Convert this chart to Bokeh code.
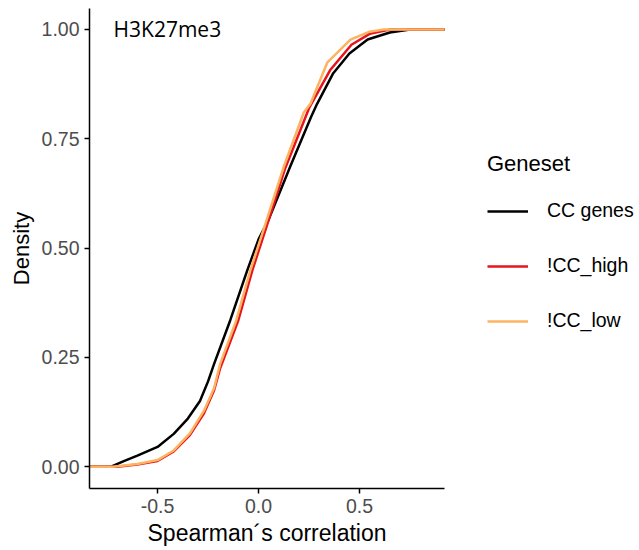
from bokeh.plotting import figure
from bokeh.models import Legend, LegendItem, Label, FixedTicker, Range1d, Title
from bokeh.embed import file_html
from bokeh.resources import INLINE

series_names = ["CC genes", "!CC_high", "!CC_low"]
series_colors = ["#000000", "#E8141B", "#FDB462"]

cc_x = [-0.84, -0.73, -0.67, -0.60, -0.50, -0.42, -0.35, -0.29, -0.25, -0.22, -0.14, -0.055, 0.0, 0.05, 0.16, 0.26, 0.29, 0.37, 0.45, 0.54, 0.65, 0.75, 0.921]
cc_y = [0.0, 0.0, 0.012, 0.025, 0.045, 0.075, 0.11, 0.15, 0.195, 0.235, 0.335, 0.45, 0.52, 0.565, 0.69, 0.80, 0.83, 0.90, 0.945, 0.977, 0.993, 1.0, 1.0]

high_x = [-0.84, -0.70, -0.60, -0.50, -0.42, -0.34, -0.27, -0.22, -0.19, -0.10, -0.03, 0.05, 0.13, 0.25, 0.356, 0.46, 0.55, 0.65, 0.921]
high_y = [0.0, 0.0, 0.005, 0.013, 0.035, 0.072, 0.122, 0.175, 0.225, 0.335, 0.45, 0.564, 0.68, 0.82, 0.908, 0.965, 0.99, 1.0, 1.0]

low_x = [-0.84, -0.72, -0.60, -0.50, -0.42, -0.34, -0.27, -0.22, -0.19, -0.11, -0.04, 0.04, 0.125, 0.224, 0.257, 0.34, 0.455, 0.55, 0.62, 0.921]
low_y = [0.0, 0.0, 0.006, 0.015, 0.037, 0.076, 0.128, 0.18, 0.235, 0.335, 0.45, 0.564, 0.686, 0.81, 0.83, 0.924, 0.977, 0.995, 1.0, 1.0]

x_ticks = [-0.5, 0.0, 0.5]
x_tick_labels = ["-0.5", "0.0", "0.5"]
y_ticks = [0.0, 0.25, 0.5, 0.75, 1.0]
y_tick_labels = ["0.00", "0.25", "0.50", "0.75", "1.00"]

FONT = "Liberation Sans"
X0, X1 = -0.837, 0.921
PX_PER_UNIT = 202.0

p = figure(width=639, height=550, output_backend="svg", toolbar_location=None,
           x_range=Range1d(X0, X1 + 195 / PX_PER_UNIT), y_range=Range1d(-0.05, 1.048),
           min_border_left=89, min_border_right=0, min_border_top=8, min_border_bottom=62)
p.outline_line_color = None
p.grid.grid_line_color = None
p.background_fill_color = "white"
p.border_fill_color = "white"

renderers = []
for xs, ys, c in [(cc_x, cc_y, series_colors[0]), (high_x, high_y, series_colors[1]), (low_x, low_y, series_colors[2])]:
    r = p.line(xs, ys, line_color=c, line_width=2.5)
    renderers.append(r)

for ax in (p.xaxis[0], p.yaxis[0]):
    ax.axis_line_color = "black"
    ax.axis_line_width = 1.5
    ax.major_tick_line_color = "black"
    ax.major_tick_line_width = 1.5
    ax.major_tick_out = 5
    ax.major_tick_in = 0
    ax.minor_tick_line_color = None
    ax.major_label_text_color = "#4D4D4D"
    ax.major_label_text_font = FONT
    ax.major_label_text_font_size = "19.5px"
    ax.axis_label_text_font = FONT
    ax.axis_label_text_font_style = "normal"
    ax.axis_label_text_font_size = "22px"
    ax.axis_label_text_color = "black"

p.xaxis[0].bounds = (X0, X1)
p.xaxis[0].ticker = FixedTicker(ticks=x_ticks)
p.xaxis[0].major_label_overrides = {t: l for t, l in zip(x_ticks, x_tick_labels)}
p.yaxis[0].ticker = FixedTicker(ticks=y_ticks)
p.yaxis[0].major_label_overrides = {t: l for t, l in zip(y_ticks, y_tick_labels)}
p.yaxis[0].axis_label = "Density"
p.xaxis[0].major_label_standoff = 5
p.yaxis[0].major_label_standoff = 5
p.yaxis[0].axis_label_standoff = 5

xlab = Title(text="Spearman\u00b4s correlation", align="left", offset=58,
             text_font=FONT, text_font_size="23px", text_font_style="normal",
             text_color="black", standoff=4)
p.add_layout(xlab, "below")

lab = Label(x=-0.718, y=1.0, text="H3K27me3", text_font="Open Sans", text_font_size="21px",
            text_color="black", text_baseline="middle", text_align="left")
p.add_layout(lab)

legend = Legend(items=[LegendItem(label=n, renderers=[r]) for n, r in zip(series_names, renderers)],
                location=(398, 156), title="Geneset",
                title_text_font=FONT, title_text_font_size="22px", title_text_font_style="normal",
                title_text_color="black", title_standoff=22,
                label_text_font=FONT, label_text_font_size="19.5px", label_text_color="black",
                glyph_width=41, glyph_height=20, label_height=20, spacing=32, label_standoff=19,
                border_line_color=None, background_fill_alpha=0, padding=5, margin=0)
p.add_layout(legend)

open("out.html", "w").write(file_html(p, INLINE))
